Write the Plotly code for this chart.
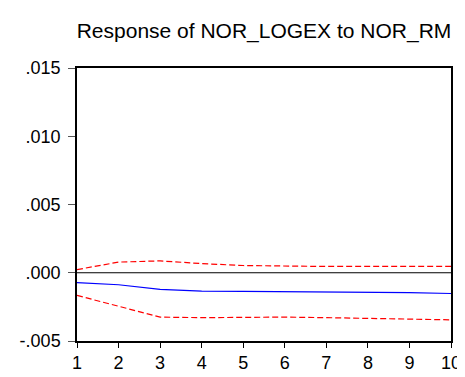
import plotly.graph_objects as go

periods = [1, 2, 3, 4, 5, 6, 7, 8, 9, 10]
response = [-0.00072, -0.00088, -0.00122, -0.00134, -0.00136, -0.00138, -0.00140, -0.00142, -0.00146, -0.00152]
upper = [0.00023, 0.00078, 0.00087, 0.00067, 0.00053, 0.00048, 0.00046, 0.00046, 0.00046, 0.00046]
lower = [-0.00166, -0.00247, -0.00325, -0.00329, -0.00325, -0.00325, -0.00329, -0.00334, -0.00340, -0.00345]
ytick_vals = [-0.005, 0.000, 0.005, 0.010, 0.015]
ytick_text = ["-.005", ".000", ".005", ".010", ".015"]
title = "Response of NOR_LOGEX to NOR_RM"

fig = go.Figure()
fig.add_trace(go.Scatter(x=periods, y=[0] * len(periods), mode="lines",
                         line=dict(color="black", width=1.2), hoverinfo="skip"))
fig.add_trace(go.Scatter(x=periods, y=upper, mode="lines",
                         line=dict(color="#ff0000", width=1.2, dash="6px,3px")))
fig.add_trace(go.Scatter(x=periods, y=lower, mode="lines",
                         line=dict(color="#ff0000", width=1.2, dash="6px,3px")))
fig.add_trace(go.Scatter(x=periods, y=response, mode="lines",
                         line=dict(color="#0000ff", width=1.2)))

fig.update_layout(
    width=465, height=377,
    margin=dict(l=67, r=12, t=60, b=27),
    paper_bgcolor="white", plot_bgcolor="white",
    showlegend=False,
    font=dict(family="Liberation Sans, Arial, sans-serif", size=18, color="black"),
    title=dict(text=title, xref="paper", x=0.5, xanchor="center",
               yref="container", y=1 - 23 / 377, yanchor="middle",
               font=dict(size=21, color="black")),
)
fig.update_xaxes(range=[1, 10], tickvals=periods, ticks="outside", ticklen=5,
                 tickcolor="black", showgrid=False, zeroline=False,
                 showline=True, linecolor="black", linewidth=1.5, mirror=True,
                 ticklabelstandoff=0)
fig.update_yaxes(range=[-0.005, 0.015], tickvals=ytick_vals, ticktext=ytick_text,
                 ticks="outside", ticklen=7, tickcolor="#555555", showgrid=False,
                 zeroline=False, showline=True, linecolor="black", linewidth=1.5,
                 mirror=True, ticklabelstandoff=4)

fig.write_html("out.html")
